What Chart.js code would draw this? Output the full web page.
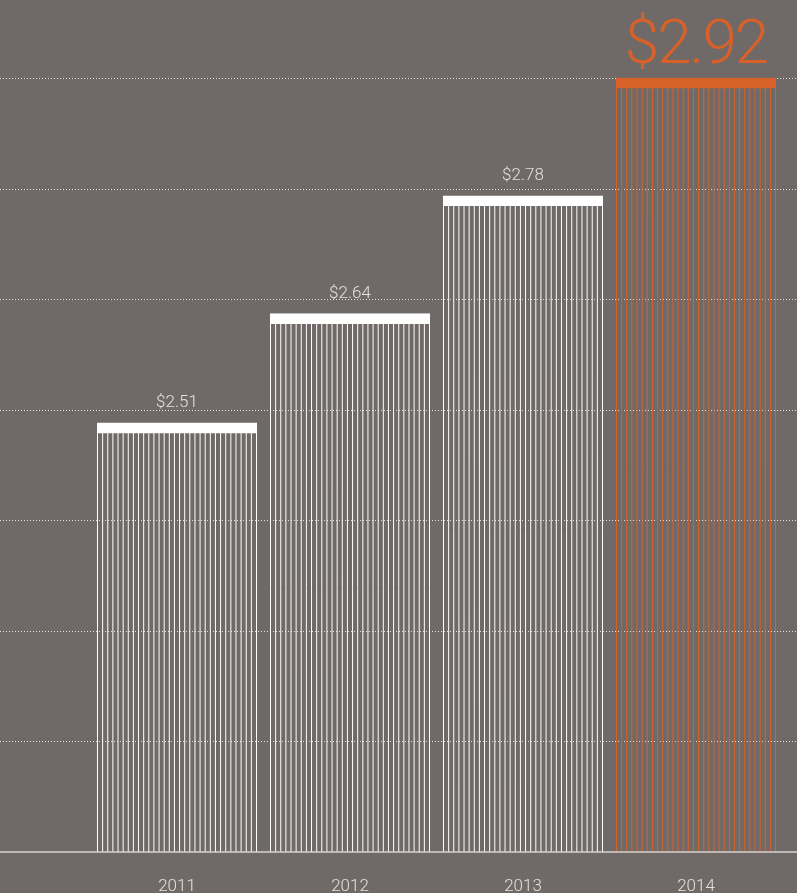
<!DOCTYPE html>
<html>
<head>
<meta charset="utf-8">
<script src="https://cdn.jsdelivr.net/npm/chart.js@4/dist/chart.umd.min.js"></script>
<style>
  html, body { margin: 0; padding: 0; background: #6f6a67; overflow: hidden; }
  #c { display: block; }
</style>
</head>
<body>
<canvas id="c" width="797" height="893"></canvas>
<script>
// ---- data ----
const categories = ['2011', '2012', '2013', '2014'];
const values = [2.51, 2.64, 2.78, 2.92];
const valueLabels = ['$2.51', '$2.64', '$2.78', '$2.92'];
const gridValues = [2.0, 2.1314, 2.2629, 2.3943, 2.5257, 2.6571, 2.7886, 2.92];

// ---- styles ----
const BG = '#6f6a67';
const WHITE = '#ffffff';
const ORANGE = '#d8612a';
const TEXT = '#e4e0dc';
const barColors = [WHITE, WHITE, WHITE, ORANGE];
const STRIPES = 32;
const CAP = 10;

const gridPlugin = {
  id: 'fullGrid',
  beforeDatasetsDraw(chart) {
    const ctx = chart.ctx, y = chart.scales.y;
    ctx.save();
    ctx.strokeStyle = 'rgba(235,231,227,0.95)';
    ctx.lineWidth = 1;
    ctx.setLineDash([1, 2]);
    gridValues.forEach(v => {
      if (v <= y.min) return;
      const py = Math.round(y.getPixelForValue(v)) + 0.5;
      ctx.beginPath();
      ctx.moveTo(0, py);
      ctx.lineTo(chart.width, py);
      ctx.stroke();
    });
    ctx.restore();
  }
};

const stripePlugin = {
  id: 'stripes',
  afterDatasetsDraw(chart) {
    const ctx = chart.ctx;
    const meta = chart.getDatasetMeta(0);
    const area = chart.chartArea;
    ctx.save();
    meta.data.forEach((bar, i) => {
      const p = bar.getProps(['x', 'y', 'width', 'base'], true);
      const left = p.x - p.width / 2;
      const top = p.y + CAP;
      const bottom = Math.min(p.base, area.bottom);
      ctx.strokeStyle = barColors[i];
      ctx.lineWidth = 1;
      const step = (p.width - 1) / (STRIPES - 1);
      for (let k = 0; k < STRIPES; k++) {
        const x = left + 0.5 + k * step;
        ctx.beginPath();
        ctx.moveTo(x, top);
        ctx.lineTo(x, bottom);
        ctx.stroke();
      }
    });
    // baseline
    const yb = Math.round(chart.scales.y.getPixelForValue(gridValues[0]));
    ctx.strokeStyle = 'rgba(215,211,207,1)';
    ctx.lineWidth = 1.5;
    ctx.beginPath();
    ctx.moveTo(0, yb);
    ctx.lineTo(chart.width, yb);
    ctx.stroke();
    // value labels
    ctx.textAlign = 'center';
    ctx.textBaseline = 'alphabetic';
    meta.data.forEach((bar, i) => {
      const last = i === meta.data.length - 1;
      if (last) {
        ctx.font = '300 62px Roboto';
        ctx.letterSpacing = '-2px';
        ctx.fillStyle = ORANGE;
        ctx.fillText(valueLabels[i], bar.x, bar.y - 15);
        ctx.letterSpacing = '0px';
      } else {
        ctx.font = '300 17px Roboto';
        ctx.fillStyle = TEXT;
        ctx.fillText(valueLabels[i], bar.x, bar.y - 16);
      }
    });
    ctx.restore();
  }
};

const bgPlugin = {
  id: 'bg',
  beforeDraw(chart) {
    const ctx = chart.ctx;
    ctx.save();
    ctx.fillStyle = BG;
    ctx.fillRect(0, 0, chart.width, chart.height);
    ctx.restore();
  }
};

new Chart(document.getElementById('c'), {
  type: 'bar',
  data: {
    labels: categories,
    datasets: [{
      data: values,
      backgroundColor: 'rgba(0,0,0,0)',
      borderColor: barColors,
      borderWidth: { top: CAP, left: 0, right: 0, bottom: 0 },
      borderSkipped: false,
      barThickness: 160
    }]
  },
  options: {
    responsive: false,
    devicePixelRatio: 1,
    animation: false,
    layout: { padding: { left: 90.5, right: 14.5, top: 0, bottom: 0 } },
    plugins: { legend: { display: false }, tooltip: { enabled: false } },
    scales: {
      x: {
        grid: { display: false },
        border: { display: false },
        afterFit(scale) { scale.height = 41; },
        ticks: {
          color: TEXT,
          padding: 18,
          font: { family: 'Roboto', weight: 300, size: 17, lineHeight: 1 }
        }
      },
      y: {
        display: false,
        min: 2,
        max: 3.0127
      }
    }
  },
  plugins: [bgPlugin, gridPlugin, stripePlugin]
});
</script>
</body>
</html>
